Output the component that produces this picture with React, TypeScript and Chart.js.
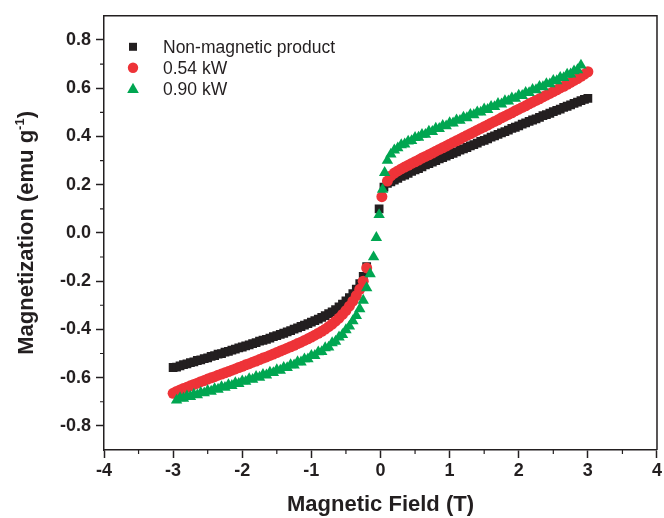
import { useEffect, useRef } from 'react';
import { Chart, registerables } from 'chart.js';

Chart.register(...registerables);

// ---- data: [field (T), magnetization (emu/g)] ----
const blackPoints: [number, number][] = [
  [-3.0, -0.558], [-2.95, -0.556], [-2.9, -0.551], [-2.85, -0.546], [-2.8, -0.543], [-2.75, -0.538], [-2.7, -0.535], [-2.65, -0.529],
  [-2.6, -0.526], [-2.55, -0.521], [-2.5, -0.518], [-2.45, -0.512], [-2.4, -0.509], [-2.35, -0.503], [-2.3, -0.5], [-2.25, -0.494],
  [-2.2, -0.491], [-2.15, -0.486], [-2.1, -0.482], [-2.05, -0.477], [-2.0, -0.473], [-1.95, -0.468], [-1.9, -0.464], [-1.85, -0.459],
  [-1.8, -0.455], [-1.75, -0.449], [-1.7, -0.445], [-1.65, -0.441], [-1.6, -0.436], [-1.55, -0.43], [-1.5, -0.426], [-1.45, -0.421],
  [-1.4, -0.416], [-1.35, -0.41], [-1.3, -0.405], [-1.25, -0.399], [-1.2, -0.394], [-1.15, -0.388], [-1.1, -0.382], [-1.05, -0.376],
  [-1.0, -0.37], [-0.95, -0.364], [-0.9, -0.357], [-0.85, -0.35], [-0.8, -0.343], [-0.75, -0.335], [-0.7, -0.327], [-0.65, -0.318],
  [-0.6, -0.307], [-0.55, -0.295], [-0.5, -0.282], [-0.45, -0.268], [-0.4, -0.252], [-0.35, -0.233], [-0.3, -0.21], [-0.25, -0.18],
  [-0.2, -0.14], [-0.02, 0.1], [0.05, 0.19],
  [0.1, 0.205], [0.15, 0.212], [0.2, 0.219], [0.25, 0.226], [0.3, 0.234], [0.35, 0.24], [0.4, 0.247], [0.45, 0.255],
  [0.5, 0.261], [0.55, 0.267], [0.6, 0.274], [0.65, 0.282], [0.7, 0.287], [0.75, 0.293], [0.8, 0.3], [0.85, 0.307],
  [0.9, 0.312], [0.95, 0.318], [1.0, 0.325], [1.05, 0.33], [1.1, 0.336], [1.15, 0.343], [1.2, 0.348], [1.25, 0.354],
  [1.3, 0.361], [1.35, 0.366], [1.4, 0.372], [1.45, 0.379], [1.5, 0.384], [1.55, 0.39], [1.6, 0.397], [1.65, 0.402],
  [1.7, 0.408], [1.75, 0.415], [1.8, 0.42], [1.85, 0.426], [1.9, 0.433], [1.95, 0.438], [2.0, 0.444], [2.05, 0.451],
  [2.1, 0.456], [2.15, 0.462], [2.2, 0.468], [2.25, 0.473], [2.3, 0.479], [2.35, 0.486], [2.4, 0.49], [2.45, 0.496],
  [2.5, 0.503], [2.55, 0.508], [2.6, 0.513], [2.65, 0.52], [2.7, 0.525], [2.75, 0.531], [2.8, 0.537], [2.85, 0.542],
  [2.9, 0.548], [2.95, 0.554], [3.0, 0.558],
];

const redPoints: [number, number][] = [
  [-3.0, -0.665], [-2.95, -0.657], [-2.9, -0.651], [-2.85, -0.645], [-2.8, -0.64], [-2.75, -0.634], [-2.7, -0.628], [-2.65, -0.623],
  [-2.6, -0.617], [-2.55, -0.612], [-2.5, -0.606], [-2.45, -0.601], [-2.4, -0.596], [-2.35, -0.59], [-2.3, -0.585], [-2.25, -0.58],
  [-2.2, -0.575], [-2.15, -0.569], [-2.1, -0.564], [-2.05, -0.558], [-2.0, -0.553], [-1.95, -0.547], [-1.9, -0.542], [-1.85, -0.536],
  [-1.8, -0.531], [-1.75, -0.525], [-1.7, -0.519], [-1.65, -0.514], [-1.6, -0.508], [-1.55, -0.502], [-1.5, -0.496], [-1.45, -0.49],
  [-1.4, -0.484], [-1.35, -0.478], [-1.3, -0.472], [-1.25, -0.466], [-1.2, -0.459], [-1.15, -0.453], [-1.1, -0.446], [-1.05, -0.439],
  [-1.0, -0.432], [-0.95, -0.424], [-0.9, -0.416], [-0.85, -0.408], [-0.8, -0.399], [-0.75, -0.389], [-0.7, -0.378], [-0.65, -0.366],
  [-0.6, -0.353], [-0.55, -0.338], [-0.5, -0.322], [-0.45, -0.304], [-0.4, -0.283], [-0.35, -0.26], [-0.3, -0.234], [-0.25, -0.2],
  [-0.2, -0.145], [0.02, 0.15],
  [0.1, 0.215], [0.15, 0.236], [0.2, 0.248], [0.25, 0.257], [0.3, 0.265], [0.35, 0.273], [0.4, 0.28], [0.45, 0.288],
  [0.5, 0.295], [0.55, 0.302], [0.6, 0.31], [0.65, 0.317], [0.7, 0.324], [0.75, 0.331], [0.8, 0.339], [0.85, 0.346],
  [0.9, 0.353], [0.95, 0.36], [1.0, 0.368], [1.05, 0.375], [1.1, 0.382], [1.15, 0.389], [1.2, 0.397], [1.25, 0.404],
  [1.3, 0.411], [1.35, 0.418], [1.4, 0.426], [1.45, 0.433], [1.5, 0.44], [1.55, 0.447], [1.6, 0.455], [1.65, 0.462],
  [1.7, 0.469], [1.75, 0.477], [1.8, 0.484], [1.85, 0.491], [1.9, 0.498], [1.95, 0.506], [2.0, 0.513], [2.05, 0.52],
  [2.1, 0.527], [2.15, 0.535], [2.2, 0.542], [2.25, 0.549], [2.3, 0.556], [2.35, 0.564], [2.4, 0.571], [2.45, 0.578],
  [2.5, 0.586], [2.55, 0.593], [2.6, 0.601], [2.65, 0.608], [2.7, 0.616], [2.75, 0.624], [2.8, 0.632], [2.85, 0.64],
  [2.9, 0.649], [2.95, 0.658], [3.0, 0.668],
];

const greenPoints: [number, number][] = [
  [-2.95, -0.694], [-2.9, -0.684], [-2.85, -0.686], [-2.8, -0.677], [-2.75, -0.679], [-2.7, -0.669], [-2.65, -0.672], [-2.6, -0.662],
  [-2.55, -0.664], [-2.5, -0.654], [-2.45, -0.657], [-2.4, -0.646], [-2.35, -0.649], [-2.3, -0.638], [-2.25, -0.641], [-2.2, -0.63],
  [-2.15, -0.633], [-2.1, -0.622], [-2.05, -0.625], [-2.0, -0.614], [-1.95, -0.616], [-1.9, -0.605], [-1.85, -0.608], [-1.8, -0.596],
  [-1.75, -0.599], [-1.7, -0.587], [-1.65, -0.59], [-1.6, -0.578], [-1.55, -0.58], [-1.5, -0.568], [-1.45, -0.57], [-1.4, -0.558],
  [-1.35, -0.559], [-1.3, -0.547], [-1.25, -0.548], [-1.2, -0.535], [-1.15, -0.536], [-1.1, -0.523], [-1.05, -0.523], [-1.0, -0.509],
  [-0.95, -0.509], [-0.9, -0.494], [-0.85, -0.493], [-0.8, -0.477], [-0.75, -0.474], [-0.7, -0.456], [-0.65, -0.45], [-0.6, -0.432],
  [-0.55, -0.422], [-0.5, -0.402], [-0.45, -0.387], [-0.4, -0.365], [-0.35, -0.343], [-0.3, -0.315], [-0.25, -0.28], [-0.2, -0.228],
  [-0.15, -0.17], [-0.1, -0.1], [-0.06, -0.02], [-0.02, 0.075], [0.03, 0.18], [0.06, 0.25], [0.1, 0.3], [0.15, 0.326],
  [0.2, 0.343], [0.25, 0.352], [0.3, 0.365], [0.35, 0.368], [0.4, 0.38], [0.45, 0.382], [0.5, 0.395], [0.55, 0.396],
  [0.6, 0.408], [0.65, 0.408], [0.7, 0.421], [0.75, 0.42], [0.8, 0.433], [0.85, 0.432], [0.9, 0.445], [0.95, 0.443],
  [1.0, 0.456], [1.05, 0.455], [1.1, 0.468], [1.15, 0.466], [1.2, 0.479], [1.25, 0.477], [1.3, 0.49], [1.35, 0.489],
  [1.4, 0.501], [1.45, 0.5], [1.5, 0.513], [1.55, 0.511], [1.6, 0.524], [1.65, 0.523], [1.7, 0.536], [1.75, 0.534],
  [1.8, 0.547], [1.85, 0.546], [1.9, 0.559], [1.95, 0.557], [2.0, 0.57], [2.05, 0.569], [2.1, 0.582], [2.15, 0.581],
  [2.2, 0.594], [2.25, 0.593], [2.3, 0.606], [2.35, 0.605], [2.4, 0.618], [2.45, 0.617], [2.5, 0.631], [2.55, 0.63],
  [2.6, 0.644], [2.65, 0.643], [2.7, 0.657], [2.75, 0.658], [2.8, 0.671], [2.85, 0.676], [2.9, 0.695],
];

const seriesLabels = ['Non-magnetic product', '0.54 kW', '0.90 kW'];

const xTicks = [-4, -3, -2, -1, 0, 1, 2, 3, 4];
const yTicks = [-0.8, -0.6, -0.4, -0.2, 0.0, 0.2, 0.4, 0.6, 0.8];
const minorXTicks = [-3.5, -2.5, -1.5, -0.5, 0.5, 1.5, 2.5, 3.5];
const minorYTicks = [-0.7, -0.5, -0.3, -0.1, 0.1, 0.3, 0.5, 0.7];

const FONT = '"Liberation Sans", Arial, Helvetica, sans-serif';
const INK = '#231f20';
const RED = '#ee3338';
const GREEN = '#00a651';

function toPoints(pairs: [number, number][]) {
  return pairs.map(([x, y]) => ({ x, y }));
}

function drawMarker(ctx: CanvasRenderingContext2D, style: string, x: number, y: number, color: string) {
  ctx.save();
  ctx.fillStyle = color;
  ctx.beginPath();
  if (style === 'rect') {
    ctx.rect(x - 4, y - 4, 8, 8);
  } else if (style === 'circle') {
    ctx.arc(x, y, 5.2, 0, Math.PI * 2);
  } else {
    ctx.moveTo(x, y - 6);
    ctx.lineTo(x + 5.8, y + 4.2);
    ctx.lineTo(x - 5.8, y + 4.2);
    ctx.closePath();
  }
  ctx.fill();
  ctx.restore();
}

export default function App() {
  const ref = useRef<HTMLCanvasElement>(null);

  useEffect(() => {
    if (!ref.current) return;

    const decorPlugin = {
      id: 'decor',
      afterDatasetsDraw(chart: any) {
        const { ctx, chartArea, scales } = chart;
        const { left, right, top, bottom } = chartArea;
        ctx.save();
        // frame (top and right edges)
        ctx.strokeStyle = INK;
        ctx.lineWidth = 1.5;
        ctx.beginPath();
        ctx.moveTo(left, top);
        ctx.lineTo(right, top);
        ctx.lineTo(right, bottom);
        ctx.stroke();
        // minor ticks
        ctx.lineWidth = 1.2;
        ctx.beginPath();
        minorXTicks.forEach((v) => {
          const px = scales.x.getPixelForValue(v);
          ctx.moveTo(px, bottom);
          ctx.lineTo(px, bottom + 4);
        });
        minorYTicks.forEach((v) => {
          const py = scales.y.getPixelForValue(v);
          ctx.moveTo(left, py);
          ctx.lineTo(left - 4, py);
        });
        ctx.stroke();

        // legend
        const styles = ['rect', 'circle', 'triangle'];
        const colors = [INK, RED, GREEN];
        ctx.font = `17.5px ${FONT}`;
        ctx.textBaseline = 'middle';
        ctx.textAlign = 'left';
        seriesLabels.forEach((label, i) => {
          const y = top + 31 + i * 21;
          drawMarker(ctx, styles[i], left + 29, y, colors[i]);
          ctx.fillStyle = INK;
          ctx.fillText(label, left + 59, y + 1);
        });

        // y-axis title with superscript
        const main = 'Magnetization (emu g';
        const sup = '-1';
        const close = ')';
        ctx.font = `bold 22px ${FONT}`;
        const wMain = ctx.measureText(main).width;
        const wClose = ctx.measureText(close).width;
        ctx.font = `bold 13px ${FONT}`;
        const wSup = ctx.measureText(sup).width;
        const total = wMain + wSup + wClose;
        ctx.translate(27, (top + bottom) / 2);
        ctx.rotate(-Math.PI / 2);
        ctx.fillStyle = INK;
        ctx.textBaseline = 'middle';
        let cx = -total / 2;
        ctx.font = `bold 22px ${FONT}`;
        ctx.fillText(main, cx, 0);
        cx += wMain;
        ctx.font = `bold 13px ${FONT}`;
        ctx.fillText(sup, cx, -7);
        cx += wSup;
        ctx.font = `bold 22px ${FONT}`;
        ctx.fillText(close, cx, 0);
        ctx.restore();
      },
    };

    const tickFont = { family: FONT, size: 18, weight: 'bold' as const };

    const chart = new Chart(ref.current, {
      type: 'scatter',
      data: {
        datasets: [
          {
            label: seriesLabels[0],
            data: toPoints(blackPoints),
            pointStyle: 'rect',
            pointRadius: 6.2,
            pointBorderWidth: 0,
            backgroundColor: INK,
            borderColor: INK,
            showLine: false,
            order: 3,
          },
          {
            label: seriesLabels[1],
            data: toPoints(redPoints),
            pointStyle: 'circle',
            pointRadius: 5.5,
            pointBorderWidth: 0,
            backgroundColor: RED,
            borderColor: RED,
            showLine: false,
            order: 2,
          },
          {
            label: seriesLabels[2],
            data: toPoints(greenPoints),
            pointStyle: 'triangle',
            pointRadius: 6.6,
            pointBorderWidth: 0,
            backgroundColor: GREEN,
            borderColor: GREEN,
            showLine: false,
            order: 1,
          },
        ],
      },
      options: {
        responsive: false,
        animation: false,
        events: [],
        layout: { padding: { top: 13, right: 5, left: 0, bottom: 0 } },
        plugins: {
          legend: { display: false },
          tooltip: { enabled: false },
        },
        scales: {
          x: {
            type: 'linear',
            min: -4,
            max: 4,
            afterBuildTicks: (s: any) => {
              s.ticks = xTicks.map((v) => ({ value: v }));
            },
            afterFit: (s: any) => {
              s.height = 68;
            },
            grid: {
              drawOnChartArea: false,
              drawTicks: true,
              tickLength: 8,
              tickColor: INK,
              tickWidth: 1.5,
            },
            border: { color: INK, width: 1.5 },
            ticks: {
              color: INK,
              font: tickFont,
              padding: 2,
              maxRotation: 0,
              autoSkip: false,
              callback: (v: any) => String(v),
            },
            title: {
              display: true,
              text: 'Magnetic Field (T)',
              color: INK,
              font: { family: FONT, size: 22, weight: 'bold' },
              padding: { top: 0, bottom: 0 },
            },
          },
          y: {
            type: 'linear',
            min: -0.9,
            max: 0.9,
            afterBuildTicks: (s: any) => {
              s.ticks = yTicks.map((v) => ({ value: v }));
            },
            afterFit: (s: any) => {
              s.width = 104;
            },
            grid: {
              drawOnChartArea: false,
              drawTicks: true,
              tickLength: 8,
              tickColor: INK,
              tickWidth: 1.5,
            },
            border: { color: INK, width: 1.5 },
            ticks: {
              color: INK,
              font: tickFont,
              padding: 5,
              autoSkip: false,
              callback: (v: any) => Number(v).toFixed(1),
            },
          },
        },
      },
      plugins: [decorPlugin],
    } as any);

    return () => chart.destroy();
  }, []);

  return (
    <div style={{ position: 'fixed', left: 0, top: 0, width: 664, height: 518, background: '#ffffff' }}>
      <canvas ref={ref} width={664} height={518} style={{ display: 'block' }} />
    </div>
  );
}
